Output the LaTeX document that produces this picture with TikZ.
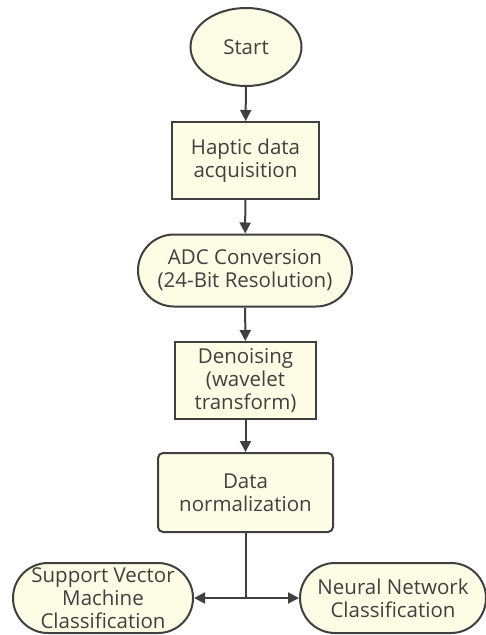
\documentclass[tikz,border=0pt]{standalone}
\usepackage{fontspec}
\setmainfont{Open Sans}
\usetikzlibrary{shapes.geometric,shapes.misc,arrows.meta}
\definecolor{boxfill}{HTML}{FDFDE6}
\definecolor{ink}{HTML}{404040}
\tikzset{
  base/.style={draw=ink, line width=2pt, fill=boxfill, text=ink, align=center,
    font=\fontsize{20.5}{23}\selectfont, inner sep=0pt},
  oval/.style={base, ellipse, minimum width=111pt, minimum height=78pt},
  plainbox/.style={base, rectangle, minimum width=#1, minimum height=77pt},
  pill/.style={base, rounded rectangle, rounded rectangle arc length=180,
    minimum width=#1, minimum height=72pt},
  softbox/.style={base, rectangle, rounded corners=5pt, minimum width=175pt, minimum height=79pt},
  flow/.style={draw=ink, line width=2pt, -{Triangle[width=11pt,length=11pt]}},
}
\begin{document}
\begin{tikzpicture}[x=1pt,y=-1pt]
  \useasboundingbox (0,0) rectangle (486,635);
  \node[oval] (start) at (246,47) {Start};
  \node[plainbox=147pt] (haptic) at (245.5,160.5) {Haptic data\\acquisition};
  \node[pill=214pt] (adc) at (245,270.5) {ADC Conversion\\(24-Bit Resolution)};
  \node[plainbox=141pt] (denoise) at (245.5,380.5) {Denoising\\(wavelet\\transform)};
  \node[softbox] (norm) at (245.5,492.5) {Data\\normalization};
  \node[pill=180pt, minimum height=70pt] (svm) at (103,598) {Support Vector\\Machine\\Classification};
  \node[pill=186pt, minimum height=70pt] (nn) at (393,598) {Neural Network\\Classification};
  \coordinate (split) at (norm.south |- svm.east);

  \draw[flow] (start) -- (haptic);
  \draw[flow] (haptic) -- (adc);
  \draw[flow] (adc) -- (denoise);
  \draw[flow] (denoise) -- (norm);
  \draw[draw=ink, line width=2pt] (norm.south) -- (split);
  \draw[flow] (split) -- (svm.east);
  \draw[flow] (split) -- (nn.west);
\end{tikzpicture}
\end{document}
